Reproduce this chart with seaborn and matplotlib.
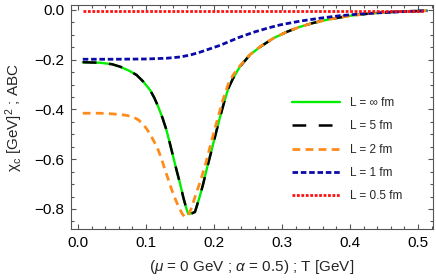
import numpy as np
import pandas as pd
import seaborn as sns
import matplotlib.pyplot as plt
from matplotlib.ticker import MultipleLocator, FuncFormatter

# values
T_inf = [0.007, 0.032, 0.050, 0.062, 0.075, 0.086, 0.096, 0.106, 0.112, 0.118, 0.124, 0.130,
         0.135, 0.140, 0.145, 0.150, 0.155, 0.159, 0.162, 0.167, 0.172, 0.179, 0.184, 0.189,
         0.194, 0.199, 0.204, 0.209, 0.215, 0.221, 0.228, 0.238, 0.253, 0.268, 0.287, 0.307,
         0.326, 0.346, 0.370, 0.400, 0.430, 0.454, 0.480, 0.512]
chi_inf = [-0.210, -0.212, -0.218, -0.228, -0.244, -0.261, -0.288, -0.322, -0.352, -0.389, -0.432, -0.482,
           -0.535, -0.590, -0.645, -0.697, -0.755, -0.795, -0.820, -0.818, -0.812, -0.750, -0.700, -0.643,
           -0.590, -0.536, -0.482, -0.429, -0.370, -0.315, -0.275, -0.228, -0.180, -0.148, -0.114, -0.088,
           -0.068, -0.052, -0.037, -0.023, -0.014, -0.009, -0.006, -0.003]

T_2 = [0.007, 0.032, 0.047, 0.062, 0.072, 0.081, 0.089, 0.096, 0.102, 0.108, 0.113, 0.118, 0.123,
       0.128, 0.133, 0.138, 0.143, 0.148, 0.153, 0.157, 0.162, 0.167, 0.172, 0.177, 0.182, 0.188,
       0.194, 0.200, 0.206, 0.213, 0.221, 0.228, 0.238, 0.253, 0.268, 0.287, 0.307, 0.326, 0.346,
       0.370, 0.400, 0.430, 0.454, 0.480, 0.512]
chi_2 = [-0.415, -0.415, -0.417, -0.420, -0.424, -0.430, -0.442, -0.460, -0.482, -0.509, -0.535, -0.563, -0.600,
         -0.643, -0.683, -0.724, -0.760, -0.791, -0.818, -0.832, -0.826, -0.795, -0.752, -0.712, -0.670, -0.615,
         -0.552, -0.490, -0.430, -0.362, -0.298, -0.262, -0.225, -0.179, -0.147, -0.114, -0.088, -0.068, -0.052,
         -0.037, -0.023, -0.014, -0.009, -0.006, -0.003]

T_1 = [0.007, 0.050, 0.100, 0.130, 0.150, 0.165, 0.179, 0.194, 0.209, 0.223, 0.238, 0.260,
       0.280, 0.297, 0.326, 0.356, 0.385, 0.415, 0.445, 0.474, 0.514]
chi_1 = [-0.198, -0.198, -0.197, -0.194, -0.189, -0.181, -0.170, -0.156, -0.142, -0.126, -0.109, -0.088,
         -0.072, -0.060, -0.045, -0.033, -0.023, -0.016, -0.011, -0.007, -0.003]

T_05 = [0.007, 0.100, 0.200, 0.300, 0.400, 0.507]
chi_05 = [-0.003, -0.003, -0.003, -0.003, -0.003, -0.003]

labels = ['L = ∞ fm', 'L = 5 fm', 'L = 2 fm', 'L = 1 fm', 'L = 0.5 fm']

sns.set_theme(style='ticks')
plt.rcParams['font.family'] = ['Liberation Sans', 'DejaVu Sans']
plt.rcParams['mathtext.fontset'] = 'custom'
plt.rcParams['mathtext.rm'] = 'Liberation Sans'
plt.rcParams['mathtext.it'] = 'Liberation Sans:italic'

fig = plt.figure(figsize=(4.36, 2.80), dpi=100)
ax = fig.add_axes([0.1622, 0.1811, 0.8317, 0.8011])

sns.lineplot(x=T_inf, y=chi_inf, ax=ax, sort=False, color='#00ee00', lw=1.7, label=labels[0])
sns.lineplot(x=T_inf, y=chi_inf, ax=ax, sort=False, color='black', lw=1.8,
             linestyle=(0, (5.5, 5)), label=labels[1])
sns.lineplot(x=T_2, y=chi_2, ax=ax, sort=False, color='#ff8c1a', lw=2.0,
             linestyle=(0, (2.8, 1.9)), label=labels[2])
sns.lineplot(x=T_1, y=chi_1, ax=ax, sort=False, color='#0a0aa8', lw=2.0,
             linestyle=(0, (2.0, 1.0)), label=labels[3])
sns.lineplot(x=T_05, y=chi_05, ax=ax, sort=False, color='#ff1010', lw=2.0,
             linestyle=(0, (1.0, 0.6)), label=labels[4])

ax.set_xlim(-0.0107, 0.5225)
ax.set_ylim(-0.8816, 0.0201)
ax.xaxis.set_major_locator(MultipleLocator(0.1))
ax.xaxis.set_minor_locator(MultipleLocator(0.02))
ax.yaxis.set_major_locator(MultipleLocator(0.2))
ax.yaxis.set_minor_locator(MultipleLocator(0.05))
fmt = FuncFormatter(lambda v, p: f"{v:.1f}".replace('-', '\u2212') if abs(v) > 1e-9 else "0.0")
ax.xaxis.set_major_formatter(fmt)
ax.yaxis.set_major_formatter(fmt)
ax.tick_params(which='both', direction='in', top=True, right=True, color='#555555',
               labelsize=11, labelcolor='black', width=0.8)
ax.tick_params(which='major', length=3.8, pad=4.5)
ax.tick_params(which='minor', length=2.0)
for s in ax.spines.values():
    s.set_color('#555555')
    s.set_linewidth(0.8)

ax.set_xlabel(r'($\mu$ = 0 GeV ; $\alpha$ = 0.5) ; T [GeV]', fontsize=11, labelpad=6)
ax.set_ylabel(r'χ$_{\rm c}$ [GeV]$^2$ ; ABC', fontsize=11, labelpad=7)

leg = ax.legend(loc='upper left', bbox_to_anchor=(291.5 / 436, 1 - 97 / 280),
                bbox_transform=fig.transFigure, frameon=False, fontsize=8.5,
                handlelength=4.1, handletextpad=0.85, labelspacing=0.96,
                borderpad=0, borderaxespad=0)

plt.savefig('out.png', dpi=100, facecolor='w')
